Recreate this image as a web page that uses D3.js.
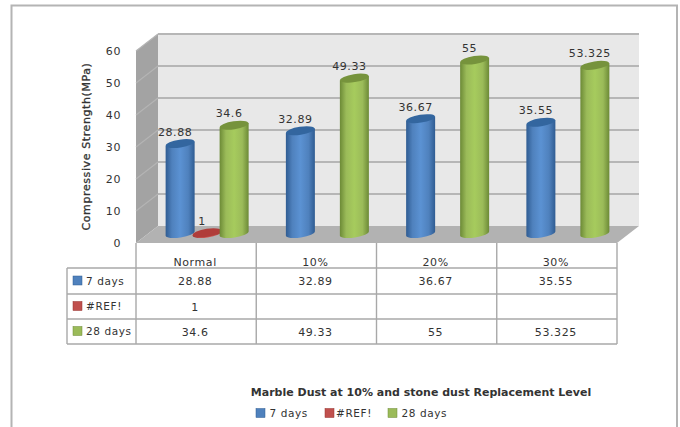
<!DOCTYPE html>
<html>
<head>
<meta charset="utf-8">
<script src="https://cdn.jsdelivr.net/npm/d3@7"></script>
<style>
html,body{margin:0;padding:0;background:#fff}
svg{display:block}
text{font-family:"DejaVu Sans",sans-serif;fill:#333;letter-spacing:0.6px}
</style>
</head>
<body>
<svg id="chart" width="680" height="427"></svg>
<script>
const categories = ["Normal", "10%", "20%", "30%"];
const seriesNames = ["7 days", "#REF!", "28 days"];
const days7 = [28.88, 32.89, 36.67, 35.55];
const ref = [1, null, null, null];
const days28 = [34.6, 49.33, 55, 53.325];
const yTicks = [0, 10, 20, 30, 40, 50, 60];
const seriesValues = [days7, ref, days28];

const palette = [
  {base: "#4f81bd", light: "#5b92d3", dark: "#2f5c92", cap: "#33669f"},
  {base: "#c0504d", light: "#d25a56", dark: "#96302d", cap: "#b03d3a"},
  {base: "#9bbb59", light: "#a6cb5d", dark: "#6c8a36", cap: "#76933c"}
];

const svg = d3.select("#chart");
const defs = svg.append("defs");
palette.forEach((c, i) => {
  const g = defs.append("linearGradient").attr("id", "cyl" + i);
  g.append("stop").attr("offset", "0%").attr("stop-color", c.dark);
  g.append("stop").attr("offset", "22%").attr("stop-color", c.base);
  g.append("stop").attr("offset", "50%").attr("stop-color", c.light);
  g.append("stop").attr("offset", "78%").attr("stop-color", c.base);
  g.append("stop").attr("offset", "100%").attr("stop-color", c.dark);
});

// Chart frame
svg.append("path").attr("d", "M11.5,427V5.5H677V427")
  .attr("fill", "none").attr("stroke", "#b4b4b4").attr("stroke-width", 2);

// Scales: front plane of the 3D box, plus the depth offset to the back wall
const depthX = 22, depthY = -17;
const x = d3.scaleBand().domain(categories).range([136, 617]);
const yFront = d3.scaleLinear().domain([0, 60]).range([243, 51]);
const yBack = v => yFront(v) + depthY;
const yBar = v => yFront(v) - 7;

// Walls and floor
const x0 = x.range()[0], x1 = x.range()[1];
svg.append("path").attr("fill", "#e8e8e8").attr("d",
  `M${x0 + depthX},${yBack(60)}H${x1 + depthX}V${yBack(0)}H${x0 + depthX}Z`);
svg.append("path").attr("fill", "#a3a3a3").attr("d",
  `M${x0},${yFront(60)}L${x0 + depthX},${yBack(60)}V${yBack(0)}L${x0},${yFront(0)}Z`);
svg.append("path").attr("fill", "#b2b2b2").attr("d",
  `M${x0},${yFront(0)}L${x0 + depthX},${yBack(0)}H${x1 + depthX}L${x1},${yFront(0)}Z`);

// Gridlines on the back and side walls
const grid = svg.append("g");
yTicks.filter(t => t > 0).forEach(t => {
  grid.append("line").attr("x1", x0 + depthX).attr("x2", x1 + depthX)
    .attr("y1", yBack(t)).attr("y2", yBack(t))
    .attr("stroke", "#b6b6b6").attr("stroke-width", 2);
  grid.append("line").attr("x1", x0).attr("x2", x0 + depthX)
    .attr("y1", yFront(t)).attr("y2", yBack(t))
    .attr("stroke", "#b4b4b4").attr("stroke-width", 1.2);
});

// Value axis
const axis = d3.axisLeft(yFront).tickValues(yTicks).tickSize(0).tickPadding(0);
const axisG = svg.append("g").attr("transform", "translate(121,0)").call(axis);
axisG.select(".domain").remove();
axisG.selectAll("text").attr("font-size", 11).attr("font-family", '"DejaVu Sans",sans-serif')
  .attr("fill", "#333").attr("dy", "0.36em");

svg.append("text")
  .attr("transform", "translate(90,146.5) rotate(-90)")
  .attr("text-anchor", "middle").attr("font-size", 11)
  .attr("stroke", "#333").attr("stroke-width", 0.3)
  .text("Compressive Strength(MPa)");

// Cylinders
const offsets = d3.scalePoint().domain(d3.range(seriesNames.length)).range([-27, 27]);
const rx = 14.5, ry = 4, tilt = 2.2;
const bars = svg.append("g");
const labels = svg.append("g");
categories.forEach((cat, ci) => {
  const cx0 = x(cat) + x.bandwidth() / 2 + depthX / 2;
  seriesValues.forEach((vals, si) => {
    const v = vals[ci];
    if (v === null) return;
    const cx = cx0 + offsets(si);
    const top = yBar(v), bot = yBar(0) - 2.5;
    const rot = -Math.atan2(tilt, rx) * 180 / Math.PI;
    bars.append("path")
      .attr("fill", `url(#cyl${si})`)
      .attr("d", `M${cx - rx},${top + tilt}V${bot + tilt}` +
        `A${rx},${ry} ${rot} 0 0 ${cx + rx},${bot - tilt}` +
        `V${top - tilt}Z`);
    bars.append("ellipse")
      .attr("cx", cx).attr("cy", top).attr("rx", rx).attr("ry", ry)
      .attr("transform", `rotate(${rot} ${cx} ${top})`)
      .attr("fill", palette[si].cap);
    labels.append("text")
      .attr("x", cx - 5).attr("y", top - 8)
      .attr("text-anchor", "middle").attr("font-size", 11)
      .text(v);
  });
});

// Data table under the plot
const rowY = [243, 268, 294, 319, 344];
const table = svg.append("g").attr("stroke", "#a8a8a8").attr("stroke-width", 1.4);
categories.concat("end").forEach(c => {
  const lx = c === "end" ? x1 : x(c);
  table.append("line").attr("x1", lx).attr("x2", lx).attr("y1", rowY[0]).attr("y2", rowY[4]);
});
table.append("line").attr("x1", 67).attr("x2", 67).attr("y1", rowY[1]).attr("y2", rowY[4]);
rowY.slice(1).forEach(ry0 => {
  table.append("line").attr("x1", 67).attr("x2", x1).attr("y1", ry0).attr("y2", ry0);
});

categories.forEach(cat => {
  svg.append("text").attr("x", x(cat) + x.bandwidth() / 2 - 1).attr("y", 266)
    .attr("text-anchor", "middle").attr("font-size", 11).text(cat);
});
seriesNames.forEach((name, si) => {
  const midY = (rowY[si + 1] + rowY[si + 2]) / 2;
  svg.append("rect").attr("x", 73).attr("y", midY - 5).attr("width", 9).attr("height", 9)
    .attr("fill", palette[si].base).attr("stroke", palette[si].dark).attr("stroke-width", 0.5);
  svg.append("text").attr("x", 86).attr("y", midY + 3.5).attr("font-size", 10.5).text(name);
  seriesValues[si].forEach((v, ci) => {
    if (v === null) return;
    svg.append("text").attr("x", x(categories[ci]) + x.bandwidth() / 2 - 1).attr("y", midY + 4)
      .attr("text-anchor", "middle").attr("font-size", 11).text(v);
  });
});

// Axis title and legend
svg.append("text").attr("x", 421).attr("y", 396).attr("text-anchor", "middle")
  .attr("font-size", 11).attr("font-weight", 600).style("letter-spacing", "0px")
  .text("Marble Dust at 10% and stone dust Replacement Level");
const legendX = [256, 325, 388];
seriesNames.forEach((name, si) => {
  svg.append("rect").attr("x", legendX[si]).attr("y", 408.5).attr("width", 9).attr("height", 9)
    .attr("fill", palette[si].base).attr("stroke", palette[si].dark).attr("stroke-width", 0.5);
  svg.append("text").attr("x", legendX[si] + (si === 1 ? 11 : 13.5)).attr("y", 416.5)
    .attr("font-size", 10.5).text(name);
});
</script>
</body>
</html>
